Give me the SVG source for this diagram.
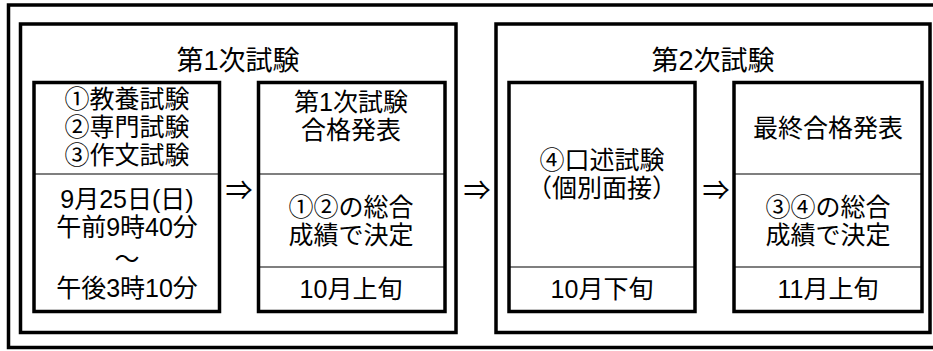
<svg xmlns="http://www.w3.org/2000/svg" width="933" height="351" viewBox="0 0 933 351">
<style>
.frame{fill:none;stroke:#000;stroke-width:3.5}
.box{fill:#fff;stroke:#000;stroke-width:3.5}
.div{stroke:#000;stroke-width:1.2}
text{font-family:"Liberation Sans","Noto Sans CJK JP",sans-serif;fill:#000;text-anchor:middle}
.t{font-size:27px}
.b{font-size:25px}
.a{font-size:27px}
</style>
<rect width="933" height="351" fill="#fff"/>
<rect class="frame" x="8.5" y="5" width="940" height="342.5"/>
<g id="stage1">
<rect class="box" x="20.5" y="24" width="435.5" height="308.5"/>
<text class="t" x="238" y="70">第1次試験</text>
</g>
<g id="stage2">
<rect class="box" x="496" y="24" width="434" height="308.5"/>
<text class="t" x="713" y="70">第2次試験</text>
</g>
<g id="examA">
<rect class="box" x="34" y="82.5" width="185.5" height="229"/>
<line class="div" x1="34" y1="174" x2="219.5" y2="174"/>
<text class="b" x="127" y="108"><tspan x="127">①教養試験</tspan><tspan x="127" dy="28">②専門試験</tspan><tspan x="127" dy="28">③作文試験</tspan></text>
<text class="b" x="127" y="208"><tspan x="127">9月25日(日)</tspan><tspan x="127" dy="28">午前9時40分</tspan><tspan x="127" dy="32">～</tspan><tspan x="127" dy="29">午後3時10分</tspan></text>
</g>
<g id="pass1">
<rect class="box" x="258.5" y="82.5" width="186.5" height="229"/>
<line class="div" x1="258.5" y1="174" x2="445" y2="174"/>
<line class="div" x1="258.5" y1="267" x2="445" y2="267"/>
<text class="b" x="351" y="111"><tspan x="351">第1次試験</tspan><tspan x="351" dy="28">合格発表</tspan></text>
<text class="b" x="351" y="216"><tspan x="351">①②の総合</tspan><tspan x="351" dy="28">成績で決定</tspan></text>
<text class="b" x="351" y="298">10月上旬</text>
</g>
<g id="oral">
<rect class="box" x="509" y="82.5" width="186" height="229"/>
<line class="div" x1="509" y1="267" x2="695" y2="267"/>
<text class="b" x="602" y="169"><tspan x="602">④口述試験</tspan><tspan x="602" dy="28">（個別面接）</tspan></text>
<text class="b" x="602" y="298">10月下旬</text>
</g>
<g id="final">
<rect class="box" x="734" y="82.5" width="188" height="229"/>
<line class="div" x1="734" y1="174" x2="922" y2="174"/>
<line class="div" x1="734" y1="267" x2="922" y2="267"/>
<text class="b" x="828" y="137">最終合格発表</text>
<text class="b" x="828" y="216"><tspan x="828">③④の総合</tspan><tspan x="828" dy="28">成績で決定</tspan></text>
<text class="b" x="828" y="298">11月上旬</text>
</g>
<g id="connectors">
<text class="a" x="239" y="200">⇒</text>
<text class="a" x="477" y="200">⇒</text>
<text class="a" x="716" y="200">⇒</text>
</g>
</svg>
